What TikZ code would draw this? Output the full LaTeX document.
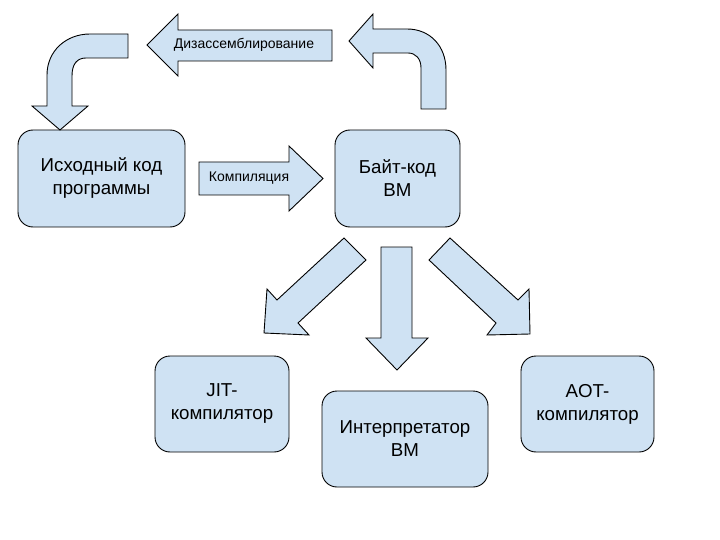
\documentclass[tikz,border=0pt]{standalone}
\usepackage{fontspec}
\setmainfont{Liberation Sans}
\usetikzlibrary{calc}
\definecolor{paleblue}{HTML}{CFE2F3}
\tikzset{
  blk/.style={draw=black, fill=paleblue, line width=0.9pt, rounded corners=15pt,
    align=center, font=\fontsize{18.7}{23}\selectfont},
  blkarrow/.style={draw=black, fill=paleblue, line width=0.9pt, line join=miter},
  lbl/.style={font=\fontsize{14}{16}\selectfont, inner sep=0pt},
}

\begin{document}
\begin{tikzpicture}[x=1pt,y=-1pt]
    \useasboundingbox (0,0) rectangle (720,540);

    % boxes
    \node[blk, minimum width=167pt, minimum height=97pt] (src) at (101.5,178.5) {Исходный код\\программы};
    \node[blk, minimum width=125pt, minimum height=97pt] (bc) at (397.5,178.5) {Байт-код\\ВМ};
    \node[blk, minimum width=134pt, minimum height=96pt] (jit) at (222,404) {JIT-\\компилятор};
    \node[blk, minimum width=166pt, minimum height=96pt] (interp) at (405,439) {Интерпретатор\\ВМ};
    \node[blk, minimum width=133pt, minimum height=96pt] (aot) at (587.5,404) {AOT-\\компилятор};

    % compile
    \draw[blkarrow] (199,162) -- (289,162) -- (289,146) -- (323,178.5)
        -- (289,211) -- (289,195) -- (199,195) -- cycle;
    \node[lbl] (cmp) at (249,178) {Компиляция};

    % disassemble
    \draw[blkarrow] (332,30) -- (178,30) -- (178,14) -- (147,45)
        -- (178,76) -- (178,61) -- (332,61) -- cycle;
    \node[lbl] (dis) at (244,45) {Дизассемблирование};

    % bent arrows
    \draw[blkarrow] (128,34) -- (90,34) .. controls (66,34) and (47,51) .. (47,75)
        -- (47,106) -- (32,106) -- (60,130) -- (88,106) -- (72,106) -- (72,76)
        .. controls (72,64) and (77,58) .. (86,58) -- (128,58) -- cycle;
    \draw[blkarrow] (349,41) -- (373,14) -- (373,29) -- (407,29)
        .. controls (430,29) and (446,46) .. (446,70) -- (446,109) -- (421,109)
        -- (421,68) .. controls (421,59) and (416,53) .. (408,53)
        -- (373,53) -- (373,68) -- cycle;

    % down arrows
    \draw[blkarrow] (344,238) -- (366,260) -- (298,323) -- (309,335)
        -- (264,333) -- (267,289) -- (277,300) -- cycle;
    \draw[blkarrow] (381,247) -- (412,247) -- (412,338) -- (428,338)
        -- (397,370) -- (366,338) -- (381,338) -- cycle;
    \draw[blkarrow] (450,238) -- (429,260) -- (496,323) -- (487,335)
        -- (530,334) -- (529,289) -- (518,300) -- cycle;
\end{tikzpicture}
\end{document}
